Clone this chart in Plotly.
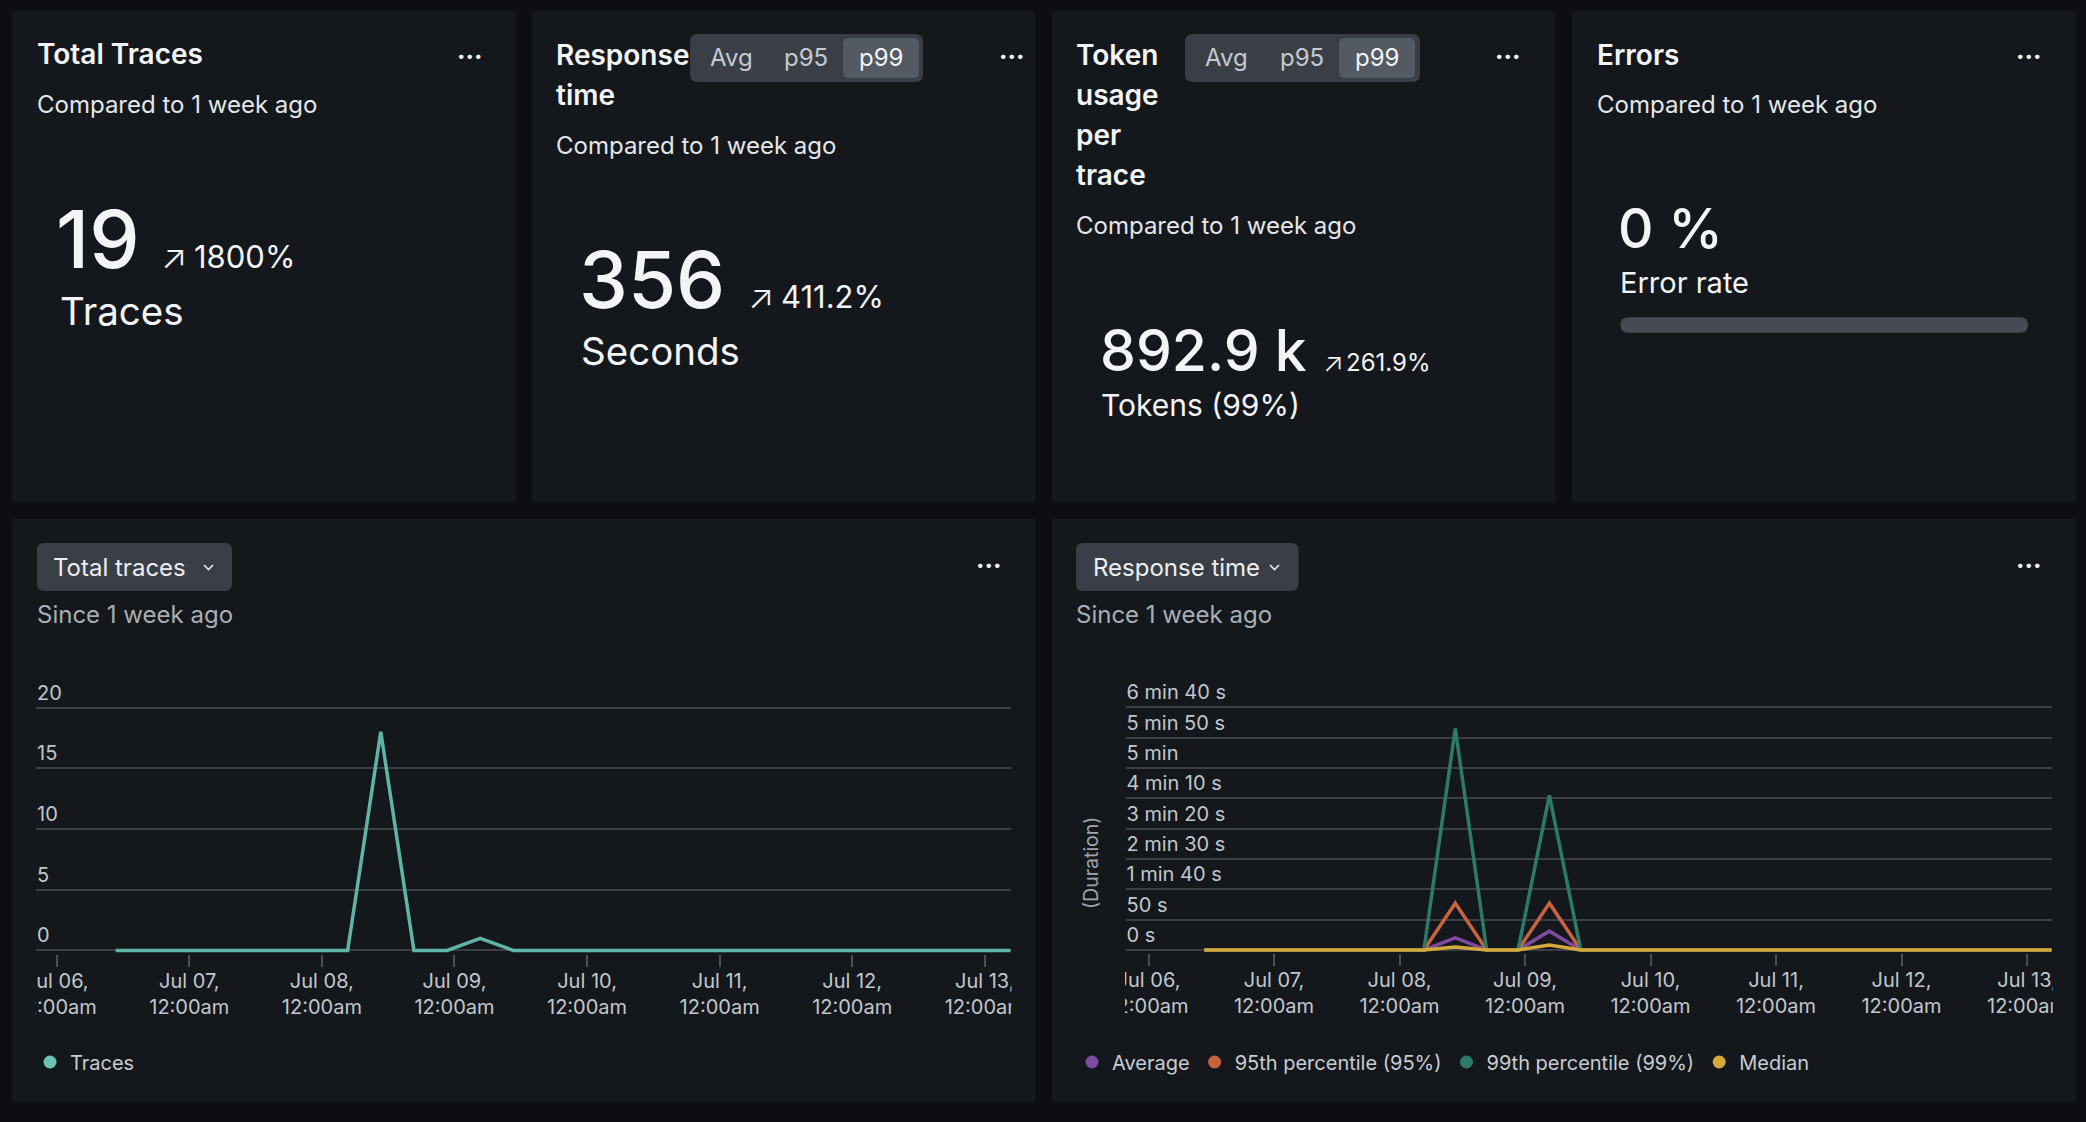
import plotly.graph_objects as go

W, H = 2086, 1122
FONT = "Inter, 'Noto Sans', sans-serif"

# ---------------- data ----------------
times = [
    "2025-07-06 10:40", "2025-07-06 16:40", "2025-07-06 22:40", "2025-07-07 04:40",
    "2025-07-07 10:40", "2025-07-07 16:40", "2025-07-07 22:40", "2025-07-08 04:40",
    "2025-07-08 10:40", "2025-07-08 16:40", "2025-07-08 22:40", "2025-07-09 04:40",
    "2025-07-09 10:40", "2025-07-09 16:40", "2025-07-09 22:40", "2025-07-10 04:40",
    "2025-07-10 10:40", "2025-07-10 16:40", "2025-07-10 22:40", "2025-07-11 04:40",
    "2025-07-11 10:40", "2025-07-11 16:40", "2025-07-11 22:40", "2025-07-12 04:40",
    "2025-07-12 10:40", "2025-07-12 16:40", "2025-07-12 22:40", "2025-07-13 04:40",
]
traces_count = [0, 0, 0, 0, 0, 0, 0, 0, 18, 0, 0, 1, 0, 0, 0, 0, 0, 0, 0, 0, 0, 0, 0, 0, 0, 0, 0, 0]
resp_avg = [0, 0, 0, 0, 0, 0, 0, 0, 20, 0, 0, 31, 0, 0, 0, 0, 0, 0, 0, 0, 0, 0, 0, 0, 0, 0, 0, 0]
resp_p95 = [0, 0, 0, 0, 0, 0, 0, 0, 77, 0, 0, 77, 0, 0, 0, 0, 0, 0, 0, 0, 0, 0, 0, 0, 0, 0, 0, 0]
resp_p99 = [0, 0, 0, 0, 0, 0, 0, 0, 365, 0, 0, 255, 0, 0, 0, 0, 0, 0, 0, 0, 0, 0, 0, 0, 0, 0, 0, 0]
resp_median = [0, 0, 0, 0, 0, 0, 0, 0, 5, 0, 0, 8, 0, 0, 0, 0, 0, 0, 0, 0, 0, 0, 0, 0, 0, 0, 0, 0]

x_tick_vals = ["2025-07-06", "2025-07-07", "2025-07-08", "2025-07-09",
               "2025-07-10", "2025-07-11", "2025-07-12", "2025-07-13"]
x_tick_text = ["Jul 06,<br>12:00am", "Jul 07,<br>12:00am", "Jul 08,<br>12:00am", "Jul 09,<br>12:00am",
               "Jul 10,<br>12:00am", "Jul 11,<br>12:00am", "Jul 12,<br>12:00am", "Jul 13,<br>12:00am"]
traces_y_vals = [0, 5, 10, 15, 20]
traces_y_text = ["0", "5", "10", "15", "20"]
resp_y_vals = [0, 50, 100, 150, 200, 250, 300, 350, 400]
resp_y_text = ["0 s", "50 s", "1 min 40 s", "2 min 30 s", "3 min 20 s",
               "4 min 10 s", "5 min", "5 min 50 s", "6 min 40 s"]

resp_series = [
    ("Average", resp_avg, "#7d4a9f"),
    ("95th percentile (95%)", resp_p95, "#c7633d"),
    ("99th percentile (99%)", resp_p99, "#2e7a68"),
    ("Median", resp_median, "#d4a73a"),
]

# ---------------- style ----------------
PAGE = "#0c0e11"
CARD = "#14181c"
BTN = "#3a3f47"
BTN_SEL = "#545a63"
GRID = "#3b3f45"
WHITE = "#f3f4f6"
SOFT = "#e4e6e9"
MUTED = "#a9aeb5"
TICK = "#c2c6cc"


def X(p):
    return p / W


def Y(p):
    return 1 - p / H


def rrect(x0, y0, x1, y1, r):
    pts = [
        ("M", [(x0 + r, y0)]),
        ("L", [(x1 - r, y0)]),
        ("Q", [(x1, y0), (x1, y0 + r)]),
        ("L", [(x1, y1 - r)]),
        ("Q", [(x1, y1), (x1 - r, y1)]),
        ("L", [(x0 + r, y1)]),
        ("Q", [(x0, y1), (x0, y1 - r)]),
        ("L", [(x0, y0 + r)]),
        ("Q", [(x0, y0), (x0 + r, y0)]),
    ]
    s = ""
    for cmd, ps in pts:
        s += cmd + " " + " ".join(f"{X(a):.6f},{Y(b):.6f}" for a, b in ps) + " "
    return s + "Z"


shapes = []


def box(x0, y0, x1, y1, r, color, layer="below"):
    shapes.append(dict(type="path", xref="paper", yref="paper", path=rrect(x0, y0, x1, y1, r),
                       fillcolor=color, line=dict(width=0), layer=layer))


# cards
for x0, x1 in [(12, 516), (532, 1035), (1052, 1555.5), (1572, 2076)]:
    box(x0, 11, x1, 502.5, 2, CARD)
box(12, 518.5, 1035, 1102.5, 2, CARD)
box(1052, 518.5, 2076, 1102.5, 2, CARD)

# toggles
box(690, 34, 923, 82, 8, BTN)
box(843, 38, 919, 78, 6, BTN_SEL)
box(1185, 34, 1420, 82, 8, BTN)
box(1339, 38, 1415, 78, 6, BTN_SEL)

# progress bar
box(1620.5, 317.3, 2028, 332.7, 7.7, "#454a53")

# dropdown buttons
box(37, 543, 232, 591, 7, BTN)
box(1076, 543, 1298.5, 591, 7, BTN)
for cx in [208.5, 1274.5]:
    shapes.append(dict(type="path", xref="paper", yref="paper",
                       path=f"M {X(cx-4.5)},{Y(565)} L {X(cx)},{Y(569.5)} L {X(cx+4.5)},{Y(565)}",
                       line=dict(color="#e6e8eb", width=1.6), layer="below"))

# masks that clip axis tick labels at the plot edges
for x0, x1 in [(12.5, 35.5), (1011.5, 1034.5), (1052.5, 1125), (2052.8, 2075.5)]:
    shapes.append(dict(type="rect", xref="paper", yref="paper", x0=X(x0), x1=X(x1), y0=Y(1020), y1=Y(957),
                       fillcolor=CARD, line=dict(width=0), layer="above"))

annotations = []


def txt(t, x, y, size, color=WHITE, weight=400, xanchor="left", angle=0):
    annotations.append(dict(text=t, x=X(x), y=Y(y), xref="paper", yref="paper", showarrow=False,
                            xanchor=xanchor, yanchor="middle", textangle=angle, borderpad=0,
                            font=dict(family=FONT, size=size, color=color, weight=weight)))


def dots(x, y):
    txt("···", x, y, 24, WHITE, 800, "center")


def arrow(x, y, size):
    txt("↗", x, y, size, WHITE, 300, "center")


# card 1
txt("Total Traces", 36, 54, 28, WHITE, 600)
txt("Compared to 1 week ago", 36, 104.5, 24, SOFT)
txt("19", 55, 238.5, 80, WHITE, 500)
arrow(174, 257, 34)
txt("1800%", 193, 257, 31, WHITE)
txt("Traces", 59, 311, 38.5, WHITE)
dots(469, 56)

# card 2
txt("Response", 555, 54.5, 28, WHITE, 600)
txt("time", 555, 94.5, 28, WHITE, 600)
txt("Compared to 1 week ago", 555, 145.3, 24, SOFT)
txt("356", 578, 279, 78, WHITE, 500)
arrow(761, 296.7, 34)
txt("411.2%", 780, 296.7, 31, WHITE)
txt("Seconds", 580, 351, 38.5, WHITE)
txt("Avg", 731, 57.5, 24, "#c5c9cf", 400, "center")
txt("p95", 806, 57.5, 24, "#c5c9cf", 400, "center")
txt("p99", 881, 57.5, 24, WHITE, 400, "center")
dots(1011, 56)

# card 3
for i, w in enumerate(["Token", "usage", "per", "trace"]):
    txt(w, 1075, 54.5 + 40 * i, 28, WHITE, 600)
txt("Compared to 1 week ago", 1075, 225, 24, SOFT)
txt("892.9 k", 1099, 350, 57, WHITE, 500)
arrow(1333, 362.3, 27)
txt("261.9%", 1345, 362.3, 24, WHITE)
txt("Tokens (99%)", 1100, 405, 30, WHITE)
txt("Avg", 1226, 57.5, 24, "#c5c9cf", 400, "center")
txt("p95", 1301.5, 57.5, 24, "#c5c9cf", 400, "center")
txt("p99", 1377, 57.5, 24, WHITE, 400, "center")
dots(1507, 56)

# card 4
txt("Errors", 1596, 54.5, 28, WHITE, 600)
txt("Compared to 1 week ago", 1596, 104.5, 24, SOFT)
txt("0 %", 1617, 228.3, 55, WHITE, 500)
txt("Error rate", 1619, 282.7, 29, WHITE)
dots(2028, 56)

# bottom cards
txt("Total traces", 52, 567, 24, "#eceef1")
txt("Since 1 week ago", 36, 614.6, 24, MUTED)
dots(988, 565)
txt("Response time", 1092, 567, 24, "#eceef1")
txt("Since 1 week ago", 1075, 614.6, 24, MUTED)
dots(2028, 565)
txt("(Duration)", 1091, 863, 19.5, "#9fa4ab", 400, "center", -90)

# ---------------- traces ----------------
fig = go.Figure()
fig.add_trace(go.Scatter(x=times, y=traces_count, mode="lines", line=dict(color="#60b4a6", width=3.5),
                         showlegend=False, xaxis="x", yaxis="y", hoverinfo="skip"))
fig.add_trace(go.Scatter(x=[None], y=[None], mode="markers", name="Traces",
                         marker=dict(color="#6cc3b3", size=13), xaxis="x", yaxis="y", legend="legend"))
for name, vals, color in resp_series:
    fig.add_trace(go.Scatter(x=times, y=vals, mode="lines", line=dict(color=color, width=3.5),
                             showlegend=False, xaxis="x2", yaxis="y2", hoverinfo="skip"))
for name, vals, color in resp_series:
    fig.add_trace(go.Scatter(x=[None], y=[None], mode="markers", name=name,
                             marker=dict(color=color, size=13), xaxis="x2", yaxis="y2", legend="legend2"))

xcommon = dict(type="date", tickmode="array", tickvals=x_tick_vals, ticktext=x_tick_text,
               ticks="outside", ticklen=12, tickwidth=2, tickcolor="#4b5058", automargin=False,
               showgrid=False, zeroline=False, showline=False, fixedrange=True,
               ticklabelstandoff=-3,
               tickfont=dict(family=FONT, size=20, color=TICK))
ycommon = dict(showgrid=True, gridcolor=GRID, gridwidth=2, zeroline=False, showline=False,
               ticks="", ticklabelposition="inside", ticklabelshift=-15, ticklabeloverflow="allow",
               ticklabelstandoff=-2,
               tickmode="array", fixedrange=True, automargin=False,
               tickfont=dict(family=FONT, size=20, color=TICK))

legcommon = dict(orientation="h", xanchor="left", yanchor="middle", bgcolor="rgba(0,0,0,0)",
                 borderwidth=0, font=dict(family=FONT, size=20, color="#c8ccd2"),
                 itemclick=False, itemdoubleclick=False)

fig.update_layout(
    width=W, height=H, autosize=False,
    margin=dict(l=0, r=0, t=0, b=0, pad=0, autoexpand=False),
    paper_bgcolor=PAGE, plot_bgcolor="rgba(0,0,0,0)",
    hovermode=False,
    xaxis=dict(domain=[X(36), X(1011)], range=["2025-07-05 20:15", "2025-07-13 04:45"],
               anchor="y", **xcommon),
    yaxis=dict(domain=[Y(953.5), Y(706.3)], range=[-0.25, 20.1], anchor="x",
               tickvals=traces_y_vals, ticktext=traces_y_text, **ycommon),
    xaxis2=dict(domain=[X(1125.5), X(2052.3)], range=["2025-07-05 19:36", "2025-07-13 04:50"],
                anchor="y2", **xcommon),
    yaxis2=dict(domain=[Y(953), Y(706.1)], range=[-5, 402], anchor="x2",
                tickvals=resp_y_vals, ticktext=resp_y_text, **ycommon),
    legend=dict(x=X(30), y=Y(1062), **legcommon),
    legend2=dict(x=X(1072), y=Y(1062), **legcommon),
    shapes=shapes,
    annotations=annotations,
)

fig.write_html("out.html", config={"displayModeBar": False})
